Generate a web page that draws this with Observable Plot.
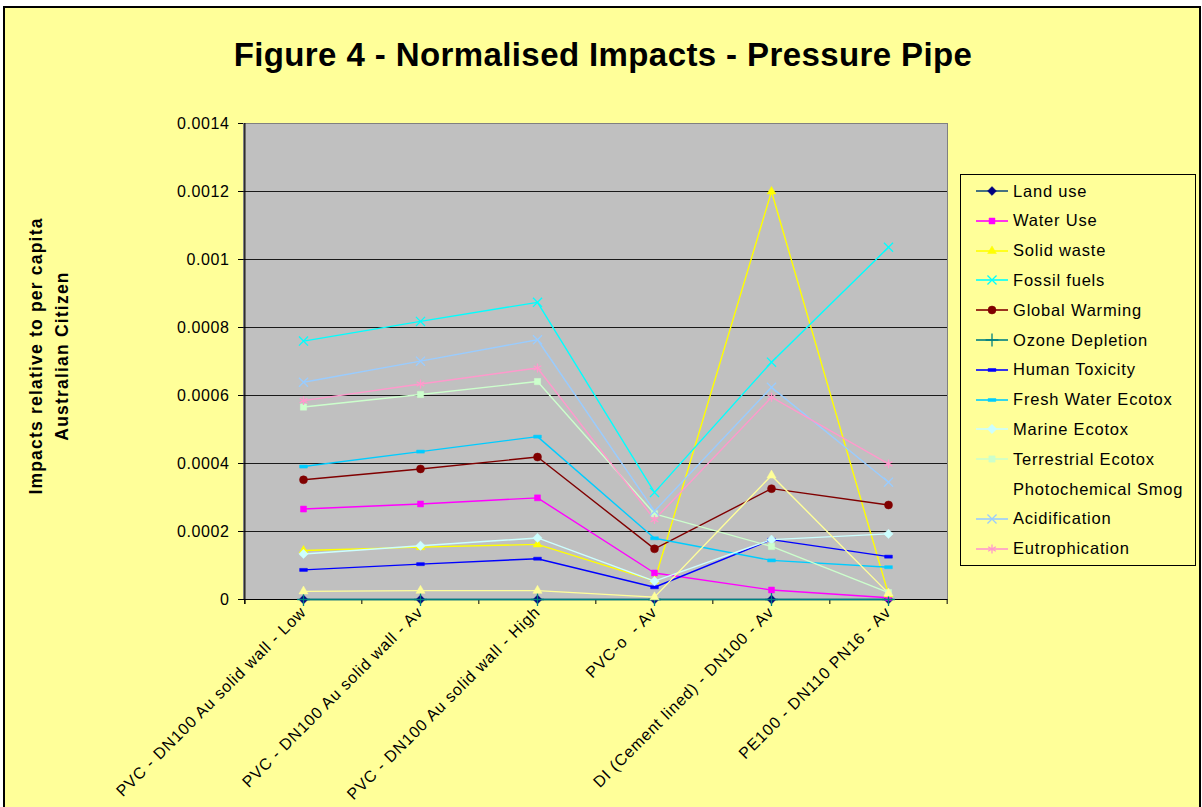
<!DOCTYPE html>
<html>
<head>
<meta charset="utf-8">
<script src="https://cdn.jsdelivr.net/npm/d3@7"></script>
<script src="https://cdn.jsdelivr.net/npm/@observablehq/plot@0.6"></script>
<style>
  html, body { margin: 0; padding: 0; background: #ffffff; width: 1202px; height: 807px; overflow: hidden; }
  #frame { position: absolute; left: 3px; top: 6px; width: 1194px; height: 820px; background: #FFFF99; border: 2px solid #000; }
  #chart { position: absolute; left: 0; top: 0; }
  #title { position: absolute; left: 0; width: 1206px; top: 36px; text-align: center; font: bold 33px "Liberation Sans", Arial, sans-serif; letter-spacing: 0.4px; color: #000; }
  #ytitle { position: absolute; left: 49px; top: 356px; width: 420px; transform: translate(-50%, -50%) rotate(-90deg); text-align: center; font: bold 17.5px/26px "Liberation Sans", Arial, sans-serif; letter-spacing: 1.2px; color: #000; }
  #legend { position: absolute; left: 960px; top: 174px; width: 234px; height: 390px; border: 1px solid #000; background: #FFFF99; font: 16.5px "Liberation Sans", Arial, sans-serif; letter-spacing: 0.8px; color: #000; }
  .row { position: absolute; left: 0; height: 22px; display: flex; align-items: center; white-space: nowrap; }
  .row svg { margin-left: 14px; margin-right: 4px; }
  #chart svg g[aria-label="y-axis tick label"] text { letter-spacing: 0.6px; }
  #chart svg g[aria-label="x-axis tick label"] text { letter-spacing: 0.9px; }
</style>
</head>
<body>
<div id="frame"></div>
<div id="title">Figure 4 - Normalised Impacts - Pressure Pipe</div>
<div id="ytitle">Impacts relative to per capita<br>Australian Citizen</div>
<div id="chart"></div>
<div id="legend"></div>
<script>
// ---- data ----
const categories = [
  "PVC - DN100 Au solid wall - Low",
  "PVC - DN100 Au solid wall - Av",
  "PVC - DN100 Au solid wall - High",
  "PVC-o\u00a0 - Av",
  "DI (Cement lined) - DN100 - Av",
  "PE100 - DN110 PN16 - Av"
];
const seriesNames = ["Land use", "Water Use", "Solid waste", "Fossil fuels", "Global Warming", "Ozone Depletion", "Human Toxicity", "Fresh Water Ecotox", "Marine Ecotox", "Terrestrial Ecotox", "Photochemical Smog", "Acidification", "Eutrophication"];
const landUse        = [0, 0, 0, 0, 0, 0];
const waterUse       = [0.000266, 0.000281, 0.000299, 0.000078, 0.000028, 0.000005];
const solidWaste     = [0.000144, 0.000154, 0.000162, 0.000055, 0.0012, 0.000015];
const fossilFuels    = [0.00076, 0.000818, 0.000874, 0.000315, 0.000698, 0.001036];
const globalWarming  = [0.000352, 0.000384, 0.000419, 0.000149, 0.000326, 0.000278];
const ozoneDepletion = [0, 0, 0, 0, 0, 0];
const humanToxicity  = [0.000087, 0.000104, 0.00012, 0.000036, 0.000176, 0.000126];
const freshWater     = [0.000391, 0.000435, 0.000479, 0.00018, 0.000115, 0.000095];
const marineEcotox   = [0.000134, 0.000158, 0.000181, 0.000054, 0.000176, 0.000193];
const terrestrial    = [0.000566, 0.000603, 0.000641, 0.000252, 0.000156, 0.00002];
const photochemSmog  = [0.000024, 0.000026, 0.000026, 0.000007, 0.000365, 0.000018];
const acidification  = [0.000639, 0.000701, 0.000764, 0.00026, 0.000624, 0.000345];
const eutrophication = [0.000585, 0.000634, 0.000681, 0.000235, 0.000595, 0.000399];
const yTicks = [0, 0.0002, 0.0004, 0.0006, 0.0008, 0.001, 0.0012, 0.0014];

// ---- styles ----
const dash = { draw(ctx, size) { const s = Math.sqrt(size); const w = s * 1.15, h = s * 0.45; ctx.rect(-w / 2, -h / 2, w, h); } };
const styles = [
  { color: "#000080", line: "#1a4f7a", symbol: d3.symbolDiamond2, r: 4, fill: true },
  { color: "#FF00FF", symbol: d3.symbolSquare2, r: 3.8, fill: true },
  { color: "#FFFF00", symbol: d3.symbolTriangle2, r: 4.2, fill: true },
  { color: "#00FFFF", symbol: d3.symbolTimes, r: 4.2, fill: false },
  { color: "#800000", symbol: d3.symbolCircle, r: 4, fill: true },
  { color: "#008080", symbol: d3.symbolPlus, r: 4.2, fill: false },
  { color: "#0000FF", symbol: dash, r: 3.8, fill: true },
  { color: "#00CCFF", symbol: dash, r: 3.8, fill: true },
  { color: "#CCFFFF", symbol: d3.symbolDiamond2, r: 4.2, fill: true },
  { color: "#CCFFCC", symbol: d3.symbolSquare2, r: 4, fill: true },
  { color: "#FFFF99", symbol: d3.symbolTriangle2, r: 4.4, fill: true },
  { color: "#99CCFF", symbol: d3.symbolTimes, r: 4.2, fill: false },
  { color: "#FF99CC", symbol: d3.symbolAsterisk, r: 4.2, fill: false }
];
const seriesValues = [landUse, waterUse, solidWaste, fossilFuels, globalWarming, ozoneDepletion, humanToxicity, freshWater, marineEcotox, terrestrial, photochemSmog, acidification, eutrophication];

const rows = [];
seriesNames.forEach((name, s) => {
  seriesValues[s].forEach((v, i) => rows.push({ series: name, s, category: categories[i], value: v }));
});

// ---- layout ----
const W = 1202, H = 807;
const mL = 243, mR = W - 947, mT = 123, mB = H - 599;
const step = (W - mL - mR) / categories.length;

const marks = [
  Plot.frame({ fill: "#C0C0C0", stroke: "#808080" }),
  Plot.ruleY(yTicks.slice(1, -1), { stroke: "#1a1a1a", strokeWidth: 1 }),
  Plot.ruleX(categories.slice(0, 1), { x: d => d, dx: -step / 2, stroke: "#000", strokeWidth: 1.2, insetBottom: -5 }),
  Plot.ruleX(categories, { x: d => d, dx: -step / 2, stroke: "#000", insetTop: H - mT - mB, insetBottom: -5 }),
  Plot.ruleX(categories.slice(-1), { x: d => d, dx: step / 2, stroke: "#000", insetTop: H - mT - mB, insetBottom: -5 }),
  Plot.ruleY([0], { stroke: "#000", strokeWidth: 1.2 }),
  Plot.axisY({ ticks: yTicks, tickSize: 5, tickPadding: 9, tickFormat: d => String(d), label: null, fontSize: 16 }),
  Plot.axisX({ tickRotate: -45, tickSize: 0, tickPadding: 10, label: null, fontSize: 16 })
];
seriesNames.forEach((name, s) => {
  const st = styles[s];
  const data = rows.filter(d => d.s === s);
  marks.push(Plot.line(data, { x: "category", y: "value", stroke: st.line || st.color, strokeWidth: 1.4 }));
});
seriesNames.forEach((name, s) => {
  const st = styles[s];
  const data = rows.filter(d => d.s === s);
  marks.push(Plot.dot(data, {
    x: "category", y: "value", symbol: st.symbol, r: st.r,
    fill: st.fill ? st.color : "none", stroke: st.color, strokeWidth: st.fill ? 0.5 : 1.3
  }));
});

const chart = Plot.plot({
  width: W, height: H,
  marginLeft: mL, marginRight: mR, marginTop: mT, marginBottom: mB,
  style: { background: "transparent", color: "#000", fontFamily: "'Liberation Sans', Arial, sans-serif", fontSize: "16px", overflow: "visible" },
  x: { type: "point", domain: categories, padding: 0.5 },
  y: { domain: [0, 0.0014] },
  marks
});
document.getElementById("chart").appendChild(chart);

// ---- legend ----
const legend = document.getElementById("legend");
seriesNames.forEach((name, s) => {
  const st = styles[s];
  const row = document.createElement("div");
  row.className = "row";
  row.style.top = (5 + s * 29.8) + "px";
  const svg = d3.create("svg").attr("width", 34).attr("height", 20);
  svg.append("line").attr("x1", 1).attr("x2", 33).attr("y1", 10).attr("y2", 10).attr("stroke", st.line || st.color).attr("stroke-width", 1.6);
  svg.append("path").attr("transform", "translate(17,10)")
    .attr("d", d3.symbol(st.symbol, Math.PI * st.r * st.r)())
    .attr("fill", st.fill ? st.color : "none").attr("stroke", st.color).attr("stroke-width", st.fill ? 0.5 : 1.3);
  row.appendChild(svg.node());
  const t = document.createElement("span");
  t.textContent = name;
  row.appendChild(t);
  legend.appendChild(row);
});
</script>
</body>
</html>
